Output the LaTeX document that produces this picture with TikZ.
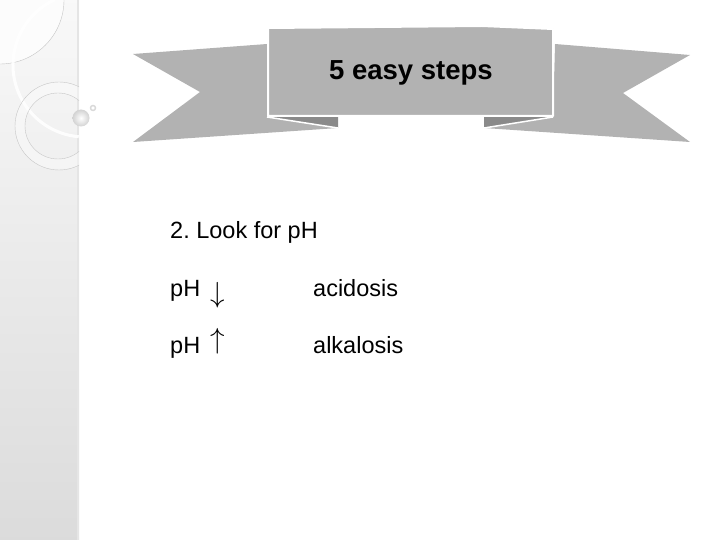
\documentclass[tikz,border=0pt]{standalone}
\usepackage{fontspec}
\setmainfont{Liberation Sans}
\definecolor{bannergray}{RGB}{178,178,178}
\definecolor{folddark}{RGB}{138,138,138}
\frenchspacing
\begin{document}
\begin{tikzpicture}[x=1pt, y=-1pt, line join=round,
	txt/.style={anchor=base west, inner sep=0pt, font=\fontsize{23.5}{28}\selectfont},
	arr/.style={inner sep=0pt, scale=1.4, font=\fontsize{20}{24}\selectfont}]
		\useasboundingbox (0,0) rectangle (720,540);
		% left strip
		\shade[top color=gray!5, bottom color=gray!28] (0,0) rectangle (79,540);
		\draw[gray!20, line width=2pt] (78,0)--(78,540);
		\begin{scope}
		\clip (0,0) rectangle (79,540);
		\fill[gray!2] (0,0)--(64,0) arc (0:90:64)--cycle;
		\draw[gray!45, line width=.4pt] (64,0) arc (0:90:64);
		\draw[white, line width=3pt, opacity=.9] (85,65) ++(245:72) arc (245:95:72);
		\fill[white, opacity=.35, even odd rule] (59,126) circle (44) (58,126) circle (33);
		\draw[gray!45, line width=.4pt] (59,126) circle (44) (58,126) circle (33);
		\end{scope}
		\shade[inner color=white, outer color=gray!35] (81,118) circle (8.5);
		\draw[gray!30, line width=1.5pt] (93,108) circle (2.5);
		% banner
		\fill[bannergray] (133,54)--(267,44)--(267,117)--(338,128)--(133,142)--(200,92)--cycle;
		\fill[bannergray] (555,44)--(690,55)--(623,93)--(690,142)--(484,128)--(553,117)--cycle;
		\fill[folddark] (267,117)--(338,117)--(338,128)--cycle;
		\fill[folddark] (553,117)--(484,117)--(484,128)--cycle;
		\draw[white, line width=1.5pt] (267,117)--(338,128) (553,117)--(484,128);
		\filldraw[fill=bannergray, draw=white, line width=2pt] (268,28)--(482,26)--(553,29)--(553,116)--(268,116)--cycle;
		\node[anchor=base, inner sep=0pt, font=\bfseries\fontsize{27.5}{30}\selectfont] (title) at (411,80) {5 easy steps};
		% text
		\node[txt] (step) at (170,238) {2. Look for pH};
		\node[txt] (ph1) at (170,296) {pH};
		\node[arr] (arrow1) at (218,295) {$\downarrow$};
		\node[txt] (acid) at (313,296) {acidosis};
		\node[txt] (ph2) at (170,353) {pH};
		\node[arr] (arrow2) at (218,341) {$\uparrow$};
		\node[txt] (alkal) at (313,353) {alkalosis};
\end{tikzpicture}
\end{document}
